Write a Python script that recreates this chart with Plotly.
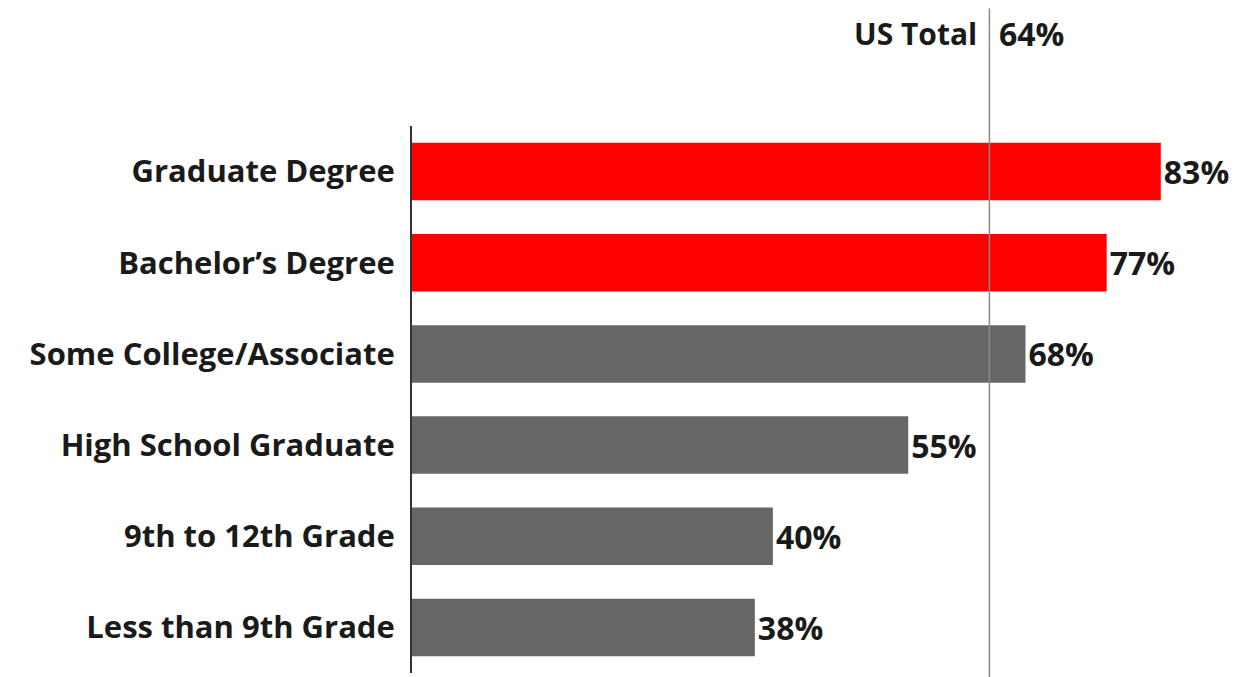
import plotly.graph_objects as go

categories = ["Graduate Degree", "Bachelor\u2019s Degree", "Some College/Associate",
              "High School Graduate", "9th to 12th Grade", "Less than 9th Grade"]
values = [83, 77, 68, 55, 40, 38]
colors = ["#ff0000", "#ff0000", "#666666", "#666666", "#666666", "#666666"]
us_total = 64
labels = [f"{v}%" for v in values]

FONT = "Open Sans"

fig = go.Figure(go.Bar(
    x=values, y=categories, orientation="h",
    marker=dict(color=colors, line=dict(width=0)),
    width=0.63,
    text=labels, textposition="outside", cliponaxis=False,
    textfont=dict(family=FONT, size=32, color="#1a1a1a", weight="bold"),
))

fig.add_shape(type="line", xref="x", yref="paper", x0=us_total, x1=us_total,
              y0=-0.02, y1=1.215, line=dict(color="#8a8a8a", width=1.5))
fig.add_annotation(xref="x", yref="paper", x=us_total, y=1.17, text="US Total",
                   xanchor="right", yanchor="middle", xshift=-10, showarrow=False,
                   font=dict(family=FONT, size=30, color="#1a1a1a", weight="bold"))
fig.add_annotation(xref="x", yref="paper", x=us_total, y=1.17, text=f"{us_total}%",
                   xanchor="left", yanchor="middle", xshift=8, showarrow=False,
                   font=dict(family=FONT, size=32, color="#1a1a1a", weight="bold"))

fig.update_layout(
    width=1236, height=669,
    margin=dict(l=404, r=2, t=118, b=4),
    plot_bgcolor="white", paper_bgcolor="white",
    showlegend=False,
    bargap=0.37,
    xaxis=dict(range=[0, 92], visible=False, fixedrange=True),
    yaxis=dict(categoryorder="array", categoryarray=categories[::-1],
               showline=True, linecolor="#333333", linewidth=2,
               ticks="", showgrid=False, zeroline=False, ticklabelstandoff=9,
               tickfont=dict(family=FONT, size=31, color="#1a1a1a", weight="bold")),
)

fig.write_html("out.html")
